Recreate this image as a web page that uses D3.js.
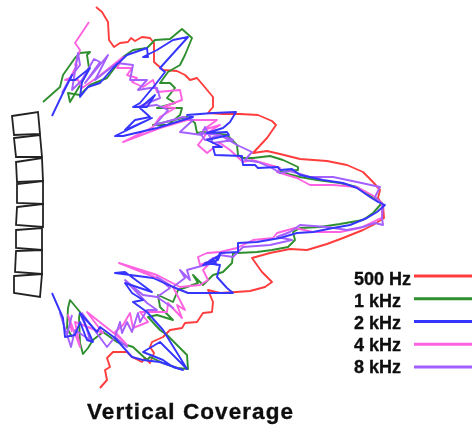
<!DOCTYPE html>
<html>
<head>
<meta charset="utf-8">
<script src="https://cdn.jsdelivr.net/npm/d3@7"></script>
<style>
html, body { margin: 0; padding: 0; background: #fff; }
svg { display: block; }
text { font-family: "Liberation Sans", Arial, sans-serif; font-weight: bold; fill: #111; stroke: #111; stroke-width: 0.35px; }
</style>
</head>
<body>
<div id="chart"></div>
<script>
// legend labels and colours
var labels = ["500 Hz", "1 kHz", "2 kHz", "4 kHz", "8 kHz"];
var colors = ["#ff3c3c", "#2f8f2f", "#3434ff", "#ff62e0", "#a45eff"];
var title = "Vertical Coverage";

// coverage traces as [across, down]
var trace500 = [[96,7],[102,12],[108,22],[109,40],[114,47],[120,43],[128,42],[131,38],[135,41],[142,37],[150,38],[154,43],[154,62],[163,70],[177,71],[185,75],[190,80],[197,78],[203,85],[213,97],[213,107],[208,113],[223,114],[240,114],[258,115],[272,121],[276,125],[267,138],[253,153],[267,151],[280,154],[300,159],[327,161],[347,165],[363,172],[373,182],[380,190],[378,198],[383,205],[384,218],[373,225],[363,230],[343,238],[327,244],[307,250],[290,249],[270,253],[252,258],[262,272],[272,282],[265,287],[250,291],[236,292],[220,293],[208,290],[213,302],[212,312],[203,313],[197,322],[185,323],[182,328],[170,330],[163,337],[152,342],[150,347],[154,353],[150,363],[145,358],[142,362],[132,357],[127,352],[113,352],[107,358],[110,367],[105,370],[107,380],[100,388]];
var trace1k = [[43,102],[60,87],[63,75],[75,58],[80,53],[90,52],[87,55],[89,68],[82,82],[70,102],[68,93],[80,95],[90,85],[107,78],[123,57],[133,50],[147,48],[155,40],[170,39],[182,29],[192,38],[185,55],[180,65],[168,72],[160,83],[170,83],[175,88],[167,98],[175,103],[157,108],[182,108],[180,115],[168,125],[153,125],[187,117],[195,123],[197,133],[203,132],[213,133],[227,135],[237,145],[238,155],[242,158],[253,158],[270,156],[283,160],[298,167],[298,170],[280,172],[300,177],[317,180],[340,183],[357,187],[373,197],[382,203],[373,213],[363,220],[340,224],[320,227],[300,228],[293,232],[295,240],[288,247],[272,250],[257,252],[238,253],[233,253],[232,263],[223,272],[213,275],[203,285],[193,275],[198,283],[187,287],[178,290],[173,302],[158,295],[160,307],[173,320],[157,315],[148,317],[160,330],[167,335],[187,355],[188,369],[177,368],[163,363],[150,357],[147,360],[133,347],[117,342],[103,332],[93,340],[88,348],[83,354],[80,343],[79,318],[80,312],[70,300],[68,308],[67,328],[72,337]];
var trace2k = [[52,116],[62,95],[72,75],[70,80],[75,80],[90,68],[82,82],[80,97],[88,87],[100,83],[113,68],[127,55],[147,48],[148,57],[143,57],[157,50],[173,40],[188,37],[160,68],[165,72],[155,85],[140,103],[133,107],[147,107],[155,95],[140,108],[150,117],[135,120],[125,130],[152,118],[115,136],[123,136],[157,128],[193,117],[187,115],[213,113],[236,112],[230,122],[223,128],[207,133],[227,132],[229,135],[207,140],[222,147],[213,147],[215,155],[242,156],[243,165],[255,165],[258,168],[278,167],[280,170],[292,169],[300,175],[323,180],[343,183],[357,188],[370,197],[378,202],[385,205],[377,212],[367,218],[350,225],[333,228],[313,232],[297,233],[280,238],[257,242],[238,243],[238,252],[220,253],[215,263],[203,265],[220,255],[218,260],[205,263],[220,265],[217,277],[227,288],[233,293],[207,293],[188,293],[173,287],[153,278],[115,273],[125,272],[152,292],[125,283],[132,293],[143,300],[133,302],[147,312],[163,330],[187,369],[160,342],[143,352],[163,360],[173,367],[183,370],[160,362],[143,360],[132,357],[115,338],[100,327],[97,332],[80,313],[93,342],[87,340],[80,322],[75,335],[65,337],[63,318],[52,293]];
var trace4k = [[89,22],[75,43],[80,50],[75,65],[77,65],[70,78],[65,80],[78,80],[82,88],[98,77],[123,57],[117,68],[132,68],[127,75],[137,78],[132,82],[143,87],[153,80],[157,92],[180,90],[182,100],[163,107],[175,108],[160,117],[153,127],[123,142],[160,128],[187,120],[217,120],[203,130],[220,125],[207,133],[198,145],[207,153],[220,143],[230,150],[243,162],[252,160],[263,163],[280,168],[277,172],[297,178],[310,185],[333,185],[357,187],[372,195],[382,203],[382,218],[377,220],[360,228],[340,232],[313,232],[295,228],[277,233],[273,238],[253,240],[237,248],[220,252],[207,253],[198,257],[200,265],[213,260],[203,270],[208,280],[200,285],[180,287],[157,275],[119,263],[157,278],[173,287],[185,310],[177,305],[182,318],[168,303],[167,312],[140,312],[148,322],[133,328],[130,313],[123,325],[115,332],[127,345],[120,338],[87,312],[103,333],[75,322],[80,347],[68,315],[72,332]];
var trace8k = [[62,93],[70,78],[80,65],[78,53],[72,90],[82,80],[94,59],[100,62],[85,83],[108,55],[95,80],[117,63],[133,65],[130,80],[147,80],[138,90],[150,88],[157,88],[160,98],[138,107],[157,105],[168,110],[155,125],[183,117],[193,120],[180,132],[202,135],[205,127],[213,143],[233,140],[220,135],[205,140],[200,133],[220,135],[237,145],[252,152],[245,160],[258,162],[272,168],[280,173],[290,171],[310,177],[333,177],[357,182],[380,187],[375,197],[383,205],[382,218],[383,225],[375,223],[363,227],[347,230],[327,227],[300,225],[290,232],[277,237],[292,240],[270,245],[243,247],[233,257],[220,255],[210,260],[217,265],[213,258],[205,265],[187,270],[190,280],[180,270],[185,278],[173,287],[157,277],[170,288],[157,297],[173,308],[157,297],[143,295],[125,280],[147,303],[157,310],[147,310],[140,322],[138,313],[132,332],[127,322],[122,333],[120,322],[115,337],[127,347],[115,337],[107,347],[93,328],[82,313],[90,340],[75,330],[71,347],[60,313],[67,335],[72,315]];
var traces = [trace500, trace1k, trace4k, trace8k, trace2k];
var traceColors = [colors[0], colors[1], colors[3], colors[4], colors[2]];

// the eight cabinets of the array, corners as [across, down]
var cabinets = [
    [[12,116],[38,112],[40,134],[14,135]],
    [[14,138],[40,135],[42,157],[16,157]],
    [[16,162],[42,158],[43,181],[17,182]],
    [[17,184],[43,181],[43,204],[17,203]],
    [[17,207],[43,204],[43,227],[16,225]],
    [[16,230],[42,228],[42,250],[16,248]],
    [[16,251],[42,250],[42,274],[15,272]],
    [[14,276],[42,274],[40,297],[14,293]]
];

// set svg dimensions
var svgWidth = 472;
var svgHeight = 430;

var svg = d3.select("#chart").append("svg")
    .attr("width", svgWidth)
    .attr("height", svgHeight);

// the source picture is a soft upscaled bitmap
var defs = svg.append("defs");
defs.append("filter").attr("id", "soft")
    .attr("x", "-5%").attr("y", "-5%").attr("width", "110%").attr("height", "110%")
    .append("feGaussianBlur").attr("stdDeviation", 0.6);

var xScale = d3.scaleLinear().domain([0, 472]).range([0, svgWidth]);
var yScale = d3.scaleLinear().domain([0, 430]).range([0, svgHeight]);

var line = d3.line()
    .x(d => xScale(d[0]))
    .y(d => yScale(d[1]));

var plot = svg.append("g").attr("filter", "url(#soft)");

// speaker cabinets
plot.selectAll(".cabinet")
    .data(cabinets)
    .enter()
    .append("path")
    .attr("class", "cabinet")
    .attr("d", d => line(d) + "Z")
    .attr("fill", "none")
    .attr("stroke", "#222")
    .attr("stroke-width", 1.8);

// coverage traces
plot.selectAll(".trace")
    .data(traces)
    .enter()
    .append("path")
    .attr("class", "trace")
    .attr("d", line)
    .attr("fill", "none")
    .attr("stroke", (d, i) => traceColors[i])
    .attr("stroke-width", 1.9)
    .attr("stroke-linejoin", "round");

// legend
var legendY = d3.scalePoint().domain(labels).range([276, 367]);
var legendText = d3.scalePoint().domain(labels).range([285, 373]);
var legend = svg.append("g").attr("filter", "url(#soft)");

legend.selectAll("line")
    .data(labels)
    .enter()
    .append("line")
    .attr("x1", 414)
    .attr("x2", 472)
    .attr("y1", d => legendY(d))
    .attr("y2", d => legendY(d))
    .attr("stroke", (d, i) => colors[i])
    .attr("stroke-width", 3);

legend.selectAll("text")
    .data(labels)
    .enter()
    .append("text")
    .attr("x", 354)
    .attr("y", d => legendText(d))
    .attr("font-size", "18px")
    .text(d => d);

svg.append("text")
    .attr("x", 87)
    .attr("y", 419)
    .attr("filter", "url(#soft)")
    .attr("font-size", "22.5px")
    .attr("textLength", 206)
    .text(title);
</script>
</body>
</html>
